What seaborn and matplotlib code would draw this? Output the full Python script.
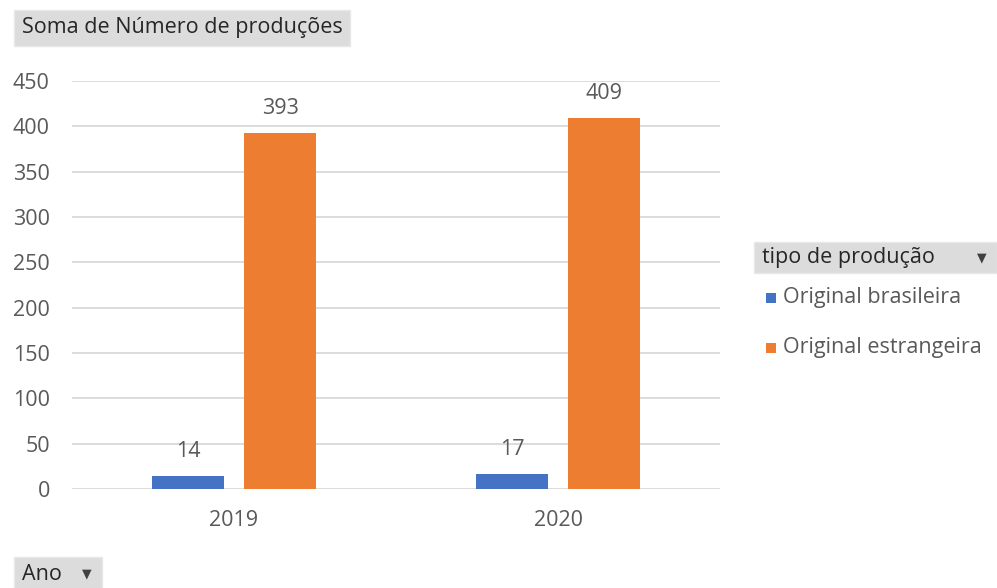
import matplotlib
matplotlib.use("Agg")
import matplotlib.pyplot as plt
import seaborn as sns
import pandas as pd
from matplotlib.patches import Rectangle

# Pivot data: productions per year and type
anos = ["2019", "2020"]
tipos = ["Original brasileira", "Original estrangeira"]
brasileira = [14, 17]
estrangeira = [393, 409]
cores = ["#4472C4", "#ED7D31"]
yticks = [0, 50, 100, 150, 200, 250, 300, 350, 400, 450]

df = pd.DataFrame({
    "Ano": anos * 2,
    "tipo de produção": [tipos[0]] * 2 + [tipos[1]] * 2,
    "valor": brasileira + estrangeira,
})

sns.set_theme(style="white")
plt.rcParams["font.family"] = ["Open Sans", "DejaVu Sans"]
txt = "#595959"
fs = 15.5

fig = plt.figure(figsize=(9.97, 5.88), dpi=100)
ax = fig.add_axes([72 / 997, 1 - 489 / 588, 648 / 997, 408 / 588])

sns.barplot(data=df, x="Ano", y="valor", hue="tipo de produção",
            palette=cores, width=0.568, gap=0.218, saturation=1,
            linewidth=0, legend=False, ax=ax)

ax.set_ylim(0, 450)
ax.set_xlim(-0.5, 1.5)
ax.set_yticks(yticks)
ax.yaxis.grid(True, color="#D9D9D9", linewidth=1.3)
ax.set_axisbelow(True)
for s in ax.spines.values():
    s.set_visible(False)
ax.tick_params(axis="both", length=0, labelsize=fs, colors=txt)
ax.tick_params(axis="y", pad=16)
ax.tick_params(axis="x", pad=15)
ax.set_xlabel("")
ax.set_ylabel("")

for cont in ax.containers:
    ax.bar_label(cont, padding=10, fontsize=fs, color=txt)

# Pivot field buttons
def botao(x0, y0, w, h, texto, seta=False):
    fig.patches.append(Rectangle((x0 / 997, 1 - (y0 + h) / 588), w / 997, h / 588,
                                 transform=fig.transFigure, facecolor="#DCDCDC",
                                 edgecolor="#E8E8E8", linewidth=1))
    fig.text((x0 + 8) / 997, 1 - (y0 + h / 2) / 588, texto, fontsize=fs,
             color="#262626", va="center", ha="left")
    if seta:
        fig.text((x0 + w - 10) / 997, 1 - (y0 + h / 2) / 588, "▼", fontsize=9,
                 color="#404040", va="center", ha="right", family="DejaVu Sans")

botao(14, 10, 336, 36, "Soma de Número de produções")
botao(754, 242, 243, 31, "tipo de produção", seta=True)
botao(14, 557, 88, 34, "Ano", seta=True)

# Legend entries
for i, (t, c) in enumerate(zip(tipos, cores)):
    yc = 298 + 50 * i
    fig.patches.append(Rectangle((766 / 997, 1 - (yc + 5) / 588), 10 / 997, 10 / 588,
                                 transform=fig.transFigure, facecolor=c, edgecolor="none"))
    fig.text(783 / 997, 1 - yc / 588, t, fontsize=fs, color=txt, va="center", ha="left")

fig.savefig("out.png", dpi=100, facecolor="white")
